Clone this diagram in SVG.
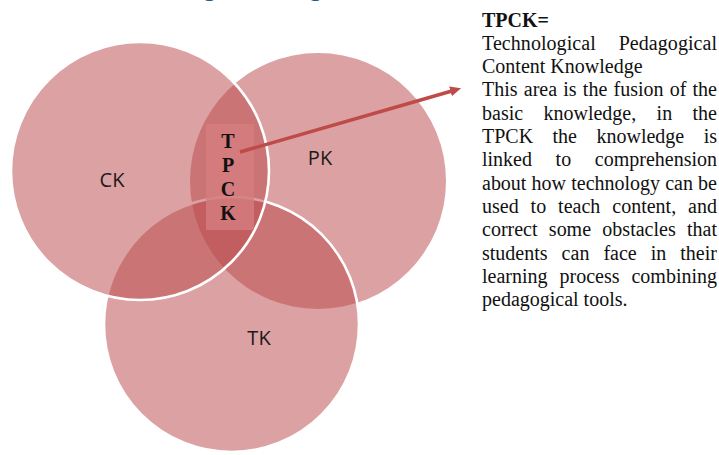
<svg xmlns="http://www.w3.org/2000/svg" width="719" height="455" viewBox="0 0 719 455">
  <defs>
    <style>
      .circ { fill: #bb4a4d; fill-opacity: 0.52; }
      .edge { fill: none; stroke: #ffffff; stroke-width: 2.6; }
      .lbl { font-family: "Open Sans", "Noto Sans", "Liberation Sans", sans-serif; font-size: 20px; fill: #1a1a1a; text-anchor: middle; }
      .tp { font-family: "Liberation Serif", "Times New Roman", serif; font-size: 20px; font-weight: bold; fill: #111111; text-anchor: middle; }
      .t { font-family: "Liberation Serif", "Times New Roman", serif; font-size: 20px; fill: #111111; }
      .b { font-weight: bold; }
      .ttl { font-family: "Liberation Serif", "Times New Roman", serif; font-size: 26px; fill: #2f5496; }
      .arrow { stroke: #bf4b48; stroke-width: 3.5; fill: none; }
    </style>
    <marker id="ah" markerUnits="userSpaceOnUse" markerWidth="12" markerHeight="11" refX="0.5" refY="5" orient="auto" viewBox="0 0 12 10">
      <path d="M0,0 L11,5 L0,10 z" fill="#bf4b48"/>
    </marker>
  </defs>
  <rect x="0" y="0" width="719" height="455" fill="#ffffff"/>

  <!-- clipped title fragments -->
  <text class="ttl" x="203" y="-4">g</text>
  <text class="ttl" x="309" y="-4">g</text>

  <g id="PK">
    <circle class="circ" cx="318" cy="181" r="128"/>
    <text class="lbl" x="320" y="165">PK</text>
  </g>
  <g id="TK">
    <circle class="circ" cx="231.5" cy="324.5" r="127.5"/>
    <circle class="edge" cx="231.5" cy="324.5" r="127.5"/>
    <text class="lbl" x="259" y="345">TK</text>
  </g>
  <g id="CK">
    <circle class="circ" cx="140" cy="171" r="129"/>
    <circle class="edge" cx="140" cy="171" r="129"/>
    <text class="lbl" x="112" y="187">CK</text>
  </g>
  <g id="TPCK">
    <rect x="206" y="124" width="48" height="106" fill="#d47d7f" fill-opacity="0.8"/>
    <text class="tp" x="228" y="148">T</text>
    <text class="tp" x="228" y="172">P</text>
    <text class="tp" x="228" y="196">C</text>
    <text class="tp" x="228" y="220">K</text>
  </g>

  <g id="connectors">
    <line class="arrow" x1="240" y1="152" x2="451" y2="91.2" marker-end="url(#ah)"/>
  </g>

  <g id="description">
    <text class="t b" x="482" y="26.5">TPCK=</text>
    <text class="t" x="482" y="49.8" word-spacing="17.8" textLength="235" lengthAdjust="spacing">Technological Pedagogical</text>
    <text class="t" x="482" y="73.1">Content Knowledge</text>
    <text class="t" x="482" y="96.4" word-spacing="1.2" textLength="235" lengthAdjust="spacing">This area is the fusion of the</text>
    <text class="t" x="482" y="119.7" word-spacing="15.4" textLength="235" lengthAdjust="spacing">basic knowledge, in the</text>
    <text class="t" x="482" y="143" word-spacing="14.4" textLength="235" lengthAdjust="spacing">TPCK the knowledge is</text>
    <text class="t" x="482" y="166.3" word-spacing="18.6" textLength="235" lengthAdjust="spacing">linked to comprehension</text>
    <text class="t" x="482" y="189.6" word-spacing="0.2" textLength="235" lengthAdjust="spacing">about how technology can be</text>
    <text class="t" x="482" y="212.9" word-spacing="6.9" textLength="235" lengthAdjust="spacing">used to teach content, and</text>
    <text class="t" x="482" y="236.2" word-spacing="6.3" textLength="235" lengthAdjust="spacing">correct some obstacles that</text>
    <text class="t" x="482" y="259.5" word-spacing="9" textLength="235" lengthAdjust="spacing">students can face in their</text>
    <text class="t" x="482" y="282.8" word-spacing="6.9" textLength="235" lengthAdjust="spacing">learning process combining</text>
    <text class="t" x="482" y="306.1">pedagogical tools.</text>
  </g>
</svg>
